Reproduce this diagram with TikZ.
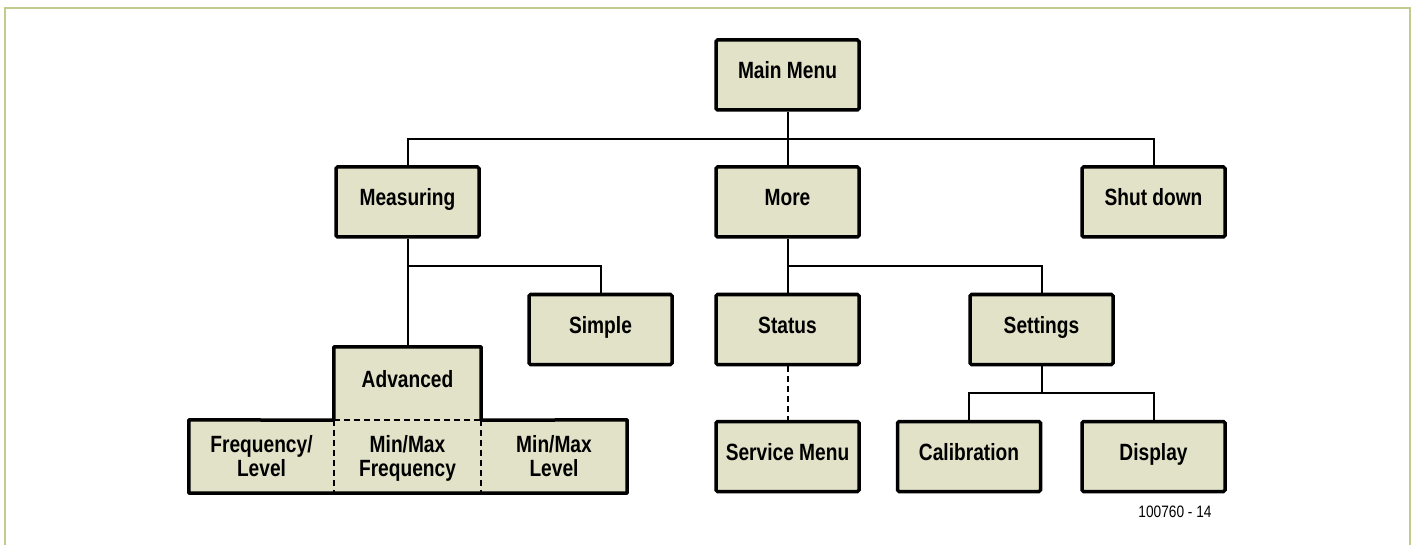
\documentclass[tikz,border=0pt]{standalone}
\usepackage{fontspec}
\setmainfont{Liberation Sans}
\newfontfamily\boxfont[FakeStretch=0.815]{Liberation Sans}
\newfontfamily\numfont[FakeStretch=0.83]{Liberation Sans}
\newcommand\Lstr{\vphantom{/Fy}}
\definecolor{boxfill}{RGB}{225,226,200}
\definecolor{framecol}{RGB}{194,202,142}
\begin{document}
\begin{tikzpicture}[x=1pt,y=-1pt,
  boxtxt/.style={font=\boxfont\bfseries\fontsize{23.5}{24}\selectfont},
  box/.style={boxtxt,draw=black,fill=boxfill,line width=3.5pt,rounded corners=1.5pt,
    minimum width=143pt,minimum height=70pt,inner sep=0pt,
    text height=17pt,text depth=9pt},
  cell/.style={fill=boxfill,inner sep=0pt,minimum height=73pt},
  celltext/.style={boxtxt,inner sep=0pt,align=center},
  conn/.style={draw=black,line width=2pt},
  dconn/.style={draw=black,line width=2pt,dash pattern=on 6pt off 4pt}]
\useasboundingbox (0,0) rectangle (1413,545);
% frame
\draw[framecol,line width=2pt] (5,545) -- (5,8) -- (1410,8) -- (1410,545);
% helper coordinates
\coordinate (b1) at (0,139);
\coordinate (b2) at (0,266);
\coordinate (b3) at (0,393);
% boxes
\node[box] (main) at (787.5,75) {Main Menu};
\node[box] (meas) at (407.5,202) {Measuring};
\node[box] (more) at (787.5,202) {More};
\node[box] (shut) at (1153.5,202) {Shut down};
\node[box] (simple) at (600.5,329.5) {Simple};
\node[box] (status) at (787.5,329.5) {Status};
\node[box] (settings) at (1041.5,329.5) {Settings};
\node[box] (service) at (787.5,456.5) {Service Menu};
\node[box] (calib) at (969,456.5) {Calibration};
\node[box] (display) at (1153.5,456.5) {Display};
% composite advanced block
\node[cell,minimum width=147pt] (adv) at (407.5,383.5) {};
\node[cell,minimum width=145pt] (fl) at (261.5,456.5) {};
\node[cell,minimum width=147pt] (mmf) at (407.5,456.5) {};
\node[cell,minimum width=146pt] (mml) at (554,456.5) {};
\node[celltext,text height=17pt,text depth=9pt] (advt) at (adv.center) {Advanced};
\node[celltext] (flt) at ([yshift=-1.5pt]fl.center) {Frequency/\Lstr\\Level\Lstr};
\node[celltext] (mmft) at ([yshift=-1.5pt]mmf.center) {Min/Max\Lstr\\Frequency\Lstr};
\node[celltext] (mmlt) at ([yshift=-1.5pt]mml.center) {Min/Max\Lstr\\Level\Lstr};
\draw[dconn] (adv.south west) -- (adv.south east);
\draw[dconn] (mmf.north west) -- (mmf.south west);
\draw[dconn] (mmf.north east) -- (mmf.south east);
\draw[black,line width=3.5pt,line join=round] (fl.north west) -- (adv.south west) -- (adv.north west) -- (adv.north east) -- (adv.south east) -- (mml.north east) -- (mml.south east) -- (fl.south west) -- cycle;
% connectors
\draw[conn] (main.south) -- (more.north);
\draw[conn] (meas.north) -- (meas.north |- b1) -- (shut.north |- b1) -- (shut.north);
\draw[conn] (meas.south) -- (adv.north);
\draw[conn] (meas.south |- b2) -- (simple.north |- b2) -- (simple.north);
\draw[conn] (more.south) -- (status.north);
\draw[conn] (more.south |- b2) -- (settings.north |- b2) -- (settings.north);
\draw[dconn] (status.south) -- (service.north);
\draw[conn] (settings.south) -- (settings.south |- b3);
\draw[conn] (calib.north) -- (calib.north |- b3) -- (display.north |- b3) -- (display.north);
% label
\node[font=\numfont\fontsize{16.5}{18}\selectfont,inner sep=0pt] (num) at (1175,512) {100760 - 14};
\end{tikzpicture}
\end{document}
